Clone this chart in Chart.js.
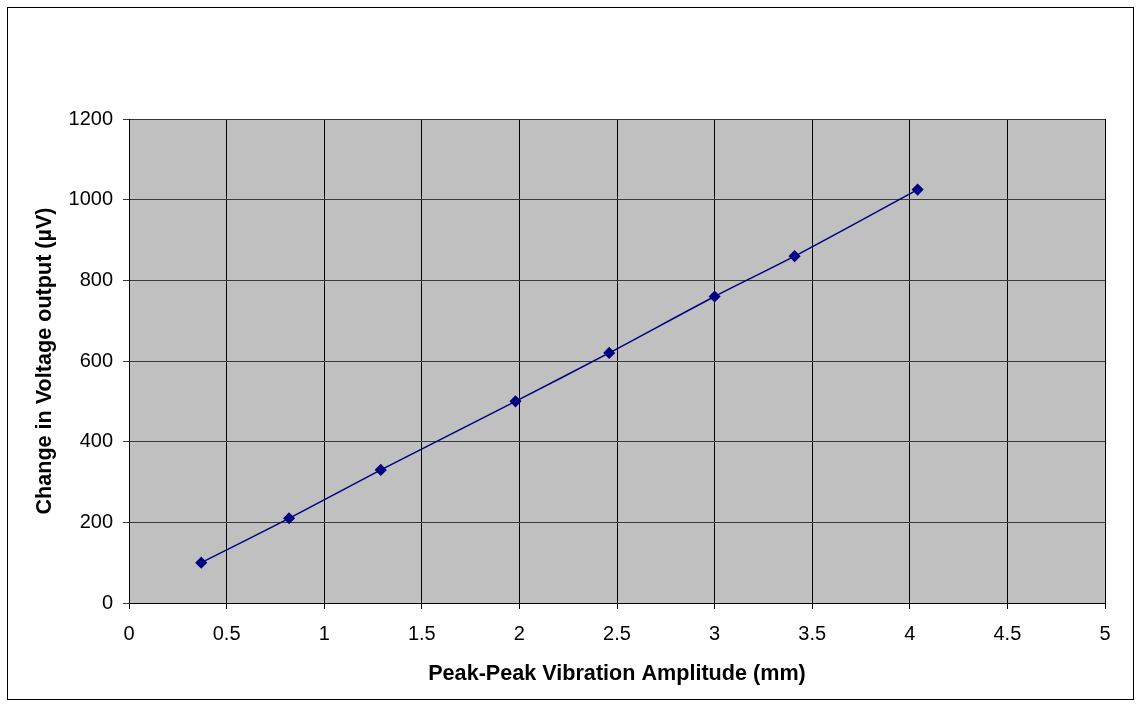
<!DOCTYPE html>
<html>
<head>
<meta charset="utf-8">
<script src="https://cdn.jsdelivr.net/npm/chart.js@4.4.1/dist/chart.umd.min.js"></script>
<style>
  html, body { margin: 0; padding: 0; background: #fff; }
  #wrap { width: 1139px; height: 706px; position: relative; }
</style>
</head>
<body>
<div id="wrap"><canvas id="c" width="1139" height="706"></canvas></div>
<script>
// Measured amplitude (mm) vs change in output voltage (µV)
const amplitudeMm = [0.37, 0.82, 1.29, 1.98, 2.46, 3.00, 3.41, 4.04];
const voltageUv   = [100, 210, 330, 500, 620, 760, 860, 1025];
const xTicks = [0, 0.5, 1, 1.5, 2, 2.5, 3, 3.5, 4, 4.5, 5];
const yTicks = [0, 200, 400, 600, 800, 1000, 1200];
const xTitle = 'Peak-Peak Vibration Amplitude (mm)';
const yTitle = 'Change in Voltage output (\u00b5V)';

const points = amplitudeMm.map((x, i) => ({ x, y: voltageUv[i] }));

// grey plot area plus the thin outer frame round the whole chart
const frame = {
  id: 'frame',
  beforeDraw(chart) {
    const { ctx, chartArea: a } = chart;
    ctx.save();
    ctx.fillStyle = '#c0c0c0';
    ctx.fillRect(a.left, a.top, a.right - a.left, a.bottom - a.top);
    ctx.strokeStyle = '#000';
    ctx.lineWidth = 1;
    ctx.strokeRect(7.5, 7.5, 1126, 692);
    ctx.restore();
  }
};

const family = 'Liberation Sans, Arial, sans-serif';
const font = { family, size: 20 };
const titleFont = { family, size: 21.6, weight: 'bold' };

new Chart(document.getElementById('c'), {
  type: 'scatter',
  data: {
    datasets: [{
      data: points,
      showLine: true,
      tension: 0.3,
      borderColor: '#000080',
      backgroundColor: '#000080',
      borderWidth: 1.5,
      pointStyle: 'rectRot',
      pointRadius: 5,
      pointHoverRadius: 5
    }]
  },
  options: {
    responsive: false,
    animation: false,
    devicePixelRatio: 1,
    layout: { padding: { left: 7, top: 119, right: 34, bottom: 7 } },
    plugins: { legend: { display: false }, tooltip: { enabled: false } },
    scales: {
      x: {
        type: 'linear',
        min: 0, max: 5,
        afterBuildTicks: s => { s.ticks = xTicks.map(v => ({ value: v })); },
        afterFit: s => { s.height = 96; },
        ticks: { color: '#000', font, padding: 13, maxRotation: 0, autoSkip: false, callback: v => String(v) },
        grid: { color: '#000', lineWidth: 1, tickLength: 6, drawTicks: true },
        border: { color: '#000', width: 1 },
        title: { display: true, text: xTitle, color: '#000', font: titleFont, padding: { top: 0, bottom: 12 } }
      },
      y: {
        type: 'linear',
        min: 0, max: 1200,
        afterBuildTicks: s => { s.ticks = yTicks.map(v => ({ value: v })); },
        afterFit: s => { s.width = 122; },
        ticks: { color: '#000', font, padding: 10, autoSkip: false, callback: v => String(v) },
        grid: { color: '#3a3a3a', lineWidth: 1, tickLength: 6, drawTicks: true },
        border: { color: '#000', width: 1 },
        title: { display: true, text: yTitle, color: '#000', font: titleFont, padding: { top: 25, bottom: 0 } }
      }
    }
  },
  plugins: [frame]
});
</script>
</body>
</html>
